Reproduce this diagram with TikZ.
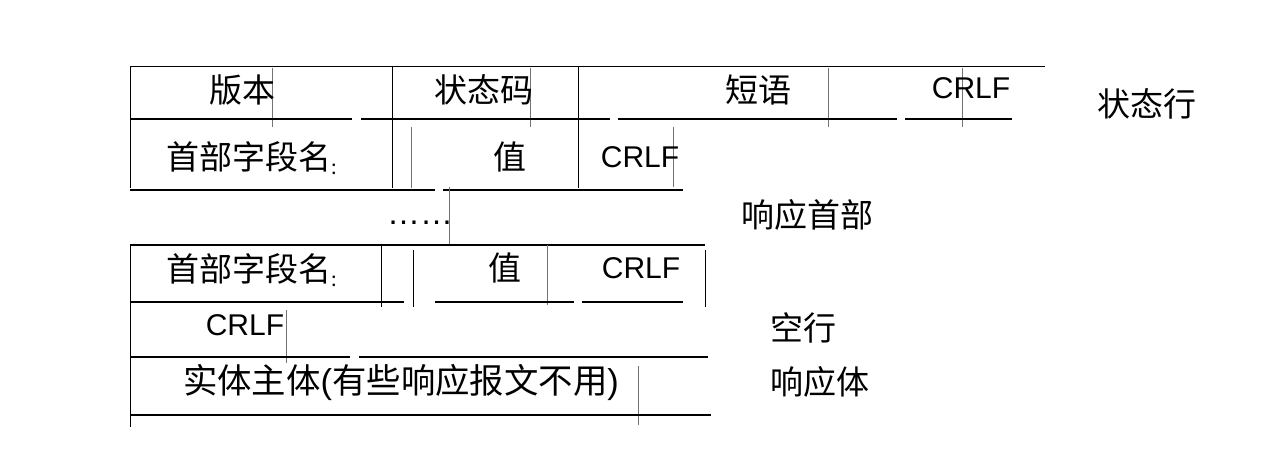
\documentclass[tikz,border=0pt]{standalone}
\usepackage{fontspec}
\setmainfont{Liberation Sans}
\newfontfamily\cjk{Noto Sans CJK SC}
\begin{document}
\begin{tikzpicture}[x=0.5pt,y=-0.5pt,
  thinl/.style={line width=0.5pt,black},
  thickl/.style={line width=1pt,black},
  grayl/.style={line width=0.35pt,black!55},
  lbl/.style={inner sep=0pt,font=\fontsize{16.5}{19}\selectfont\cjk},
  lat/.style={inner sep=0pt,font=\fontsize{15}{18}\selectfont}]
\useasboundingbox (0,0) rectangle (1273,453);
% top frame
\draw[thinl] (130,67) -- (1045,67);
\draw[thinl] (130,67) -- (130,188);
\draw[thinl] (130,245) -- (130,427);
\draw[thinl] (392.5,67) -- (392.5,188);
\draw[thinl] (578.5,67) -- (578.5,188);
% gray verticals row 1
\draw[grayl] (272,68) -- (272,127);
\draw[grayl] (530,68) -- (530,127);
\draw[grayl] (828,68) -- (828,127);
\draw[grayl] (962,68) -- (962,127);
% row 1 bottom
\draw[thickl] (130,119) -- (352,119);
\draw[thickl] (361,119) -- (610,119);
\draw[thickl] (618,119) -- (897,119);
\draw[thickl] (905,119) -- (1012,119);
% row 2
\draw[grayl] (411,127) -- (411,188);
\draw[grayl] (673,127) -- (673,187);
\draw[thickl] (130,190) -- (435,190);
\draw[thickl] (443,190) -- (683,190);
\draw[grayl] (449,187) -- (449,245);
% row 3
\draw[thickl] (130,245) -- (705,245);
\draw[thinl] (381,245) -- (381,307);
\draw[thinl] (413,250) -- (413,307);
\draw[grayl] (547,245) -- (547,305);
\draw[thinl] (705,250) -- (705,307);
\draw[thickl] (130,302) -- (404,302);
\draw[thickl] (435,302) -- (574,302);
\draw[thickl] (582,302) -- (683,302);
% row 4
\draw[grayl] (286,310) -- (286,363);
\draw[thickl] (130,357) -- (350,357);
\draw[thickl] (359,357) -- (708,357);
% row 5
\draw[grayl] (638,366) -- (638,425);
\draw[thickl] (130,415) -- (711,415);
% texts
\node[lbl] (ver) at (242,90) {版本};
\node[lbl] (code) at (484,90) {状态码};
\node[lbl] (phrase) at (758,90) {短语};
\node[lat] (crlf1) at (971,88) {CRLF};
\node[lbl] (statusline) at (1147,104) {状态行};
\node[lbl] (name1) at (252,158) {首部字段名\raisebox{-0.15em}{\fontsize{10}{10}\selectfont :}};
\node[lbl] (val1) at (510,157) {值};
\node[lat] (crlf2) at (640,157) {CRLF};
\node[lat,font=\fontsize{16.5}{18}\selectfont] (dots) at (420,223) {……};
\node[lbl] (hdr) at (807,215) {响应首部};
\node[lbl] (name2) at (252,270) {首部字段名\raisebox{-0.15em}{\fontsize{10}{10}\selectfont :}};
\node[lbl] (val2) at (505,268) {值};
\node[lat] (crlf3) at (641,268) {CRLF};
\node[lat] (crlf4) at (245,325) {CRLF};
\node[lbl] (empty) at (803,328) {空行};
\node[lbl,font=\fontsize{17.2}{19}\selectfont\cjk] (body) at (401,382) {实体主体{\rmfamily(}有些响应报文不用{\rmfamily)}};
\node[lbl] (bodyl) at (820,382) {响应体};
\end{tikzpicture}
\end{document}
